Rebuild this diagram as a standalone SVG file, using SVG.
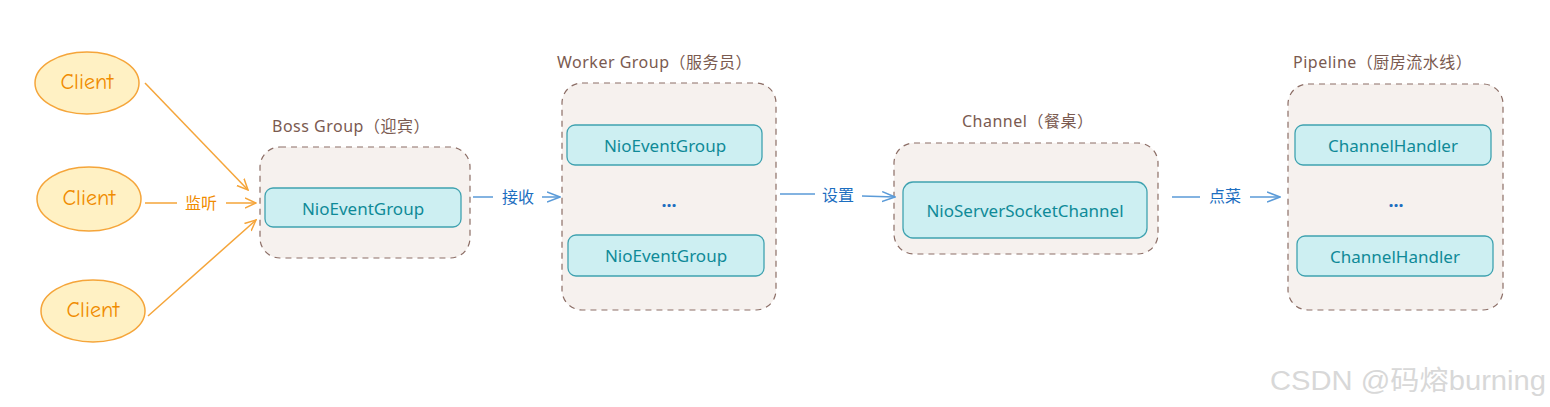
<svg xmlns="http://www.w3.org/2000/svg" width="1550" height="407" viewBox="0 0 1550 407">
<defs>
<style>
.client{fill:#fff1c4;stroke:#f5a53a;stroke-width:1.5}
.ctext{font-family:"Comic Neue","Noto Sans",sans-serif;font-size:22px;fill:#f08c00;text-anchor:middle;dominant-baseline:central}
.group{fill:#f6f1ee;stroke:#8c6e66;stroke-width:1.2;stroke-dasharray:6 5}
.title{font-family:"Noto Sans","Noto Sans CJK SC",sans-serif;font-size:16px;fill:#7a5a50;letter-spacing:0.5px}
.inner{fill:#cdeff2;stroke:#3fa2b0;stroke-width:1.3}
.itext{font-family:"Noto Sans",sans-serif;font-size:17px;fill:#0f8a98;text-anchor:middle;dominant-baseline:central}
.dots{font-family:"Noto Sans",sans-serif;font-size:18px;fill:#1c6ec0;text-anchor:middle;font-weight:bold}
.oline{stroke:#f5a53a;stroke-width:1.5;fill:none}
.bline{stroke:#5b9bd8;stroke-width:1.6;fill:none}
.olabel{font-family:"Noto Sans CJK SC",sans-serif;font-size:16px;fill:#f08c00;text-anchor:middle;dominant-baseline:central}
.blabel{font-family:"Noto Sans CJK SC",sans-serif;font-size:16px;fill:#1c6ec0;text-anchor:middle;dominant-baseline:central}
</style>
<marker id="ao" viewBox="0 0 12 12" refX="11" refY="6" markerWidth="12" markerHeight="12" markerUnits="userSpaceOnUse" orient="auto"><path d="M0,1 L11,6 L0,11" fill="none" stroke="#f5a53a" stroke-width="1.5"/></marker>
<marker id="ab" viewBox="0 0 14 12" refX="13" refY="6" markerWidth="14" markerHeight="12" markerUnits="userSpaceOnUse" orient="auto"><path d="M0,1 L13,6 L0,11" fill="none" stroke="#5b9bd8" stroke-width="1.5"/></marker>
</defs>
<rect width="1550" height="407" fill="#ffffff"/>

<g id="client1"><ellipse class="client" cx="87" cy="83" rx="52" ry="31"/><text class="ctext" x="87" y="82">Client</text></g>
<g id="client2"><ellipse class="client" cx="89" cy="199" rx="52" ry="32"/><text class="ctext" x="89" y="198">Client</text></g>
<g id="client3"><ellipse class="client" cx="93" cy="311" rx="52" ry="31"/><text class="ctext" x="93" y="310">Client</text></g>

<g id="boss">
<rect class="group" x="260" y="147" width="210" height="111" rx="20"/>
<text class="title" x="272" y="132">Boss Group（迎宾）</text>
<rect class="inner" x="265" y="188" width="196" height="39" rx="8"/>
<text class="itext" x="363" y="208">NioEventGroup</text>
</g>

<g id="worker">
<rect class="group" x="562" y="83" width="214" height="227" rx="20"/>
<text class="title" x="557" y="68">Worker Group（服务员）</text>
<rect class="inner" x="567" y="125" width="195" height="40" rx="8"/>
<text class="itext" x="665" y="145">NioEventGroup</text>
<text class="dots" x="669" y="207">...</text>
<rect class="inner" x="568" y="235" width="196" height="41" rx="8"/>
<text class="itext" x="666" y="255">NioEventGroup</text>
</g>

<g id="channel">
<rect class="group" x="894" y="143" width="264" height="111" rx="20"/>
<text class="title" x="962" y="127">Channel（餐桌）</text>
<rect class="inner" x="903" y="182" width="244" height="56" rx="10"/>
<text class="itext" x="1025" y="210">NioServerSocketChannel</text>
</g>

<g id="pipeline">
<rect class="group" x="1288" y="84" width="215" height="226" rx="20"/>
<text class="title" x="1293" y="68">Pipeline（厨房流水线）</text>
<rect class="inner" x="1295" y="125" width="196" height="40" rx="8"/>
<text class="itext" x="1393" y="145">ChannelHandler</text>
<text class="dots" x="1396" y="207">...</text>
<rect class="inner" x="1297" y="236" width="196" height="40" rx="8"/>
<text class="itext" x="1395" y="256">ChannelHandler</text>
</g>

<g id="connectors">
<path class="oline" d="M145,83 L248,190" marker-end="url(#ao)"/>
<path class="oline" d="M145,203 L177,203 M226,203 L256,203" marker-end="url(#ao)"/>
<text class="olabel" x="201" y="202">监听</text>
<path class="oline" d="M148,316 L256,220" marker-end="url(#ao)"/>

<path class="bline" d="M473,197 L493,197 M542,197 L560,197" marker-end="url(#ab)"/>
<text class="blabel" x="518" y="196">接收</text>

<path class="bline" d="M780,194 L815,194 M862,196 L895,197" marker-end="url(#ab)"/>
<text class="blabel" x="838" y="194">设置</text>

<path class="bline" d="M1172,197 L1200,197 M1250,197 L1280,197" marker-end="url(#ab)"/>
<text class="blabel" x="1225" y="195">点菜</text>
</g>

<text x="1270" y="390" font-family="Liberation Sans,Noto Sans CJK SC,sans-serif" font-size="27" textLength="276" lengthAdjust="spacingAndGlyphs" fill="#d8d8d8">CSDN @码熔burning</text>
</svg>
